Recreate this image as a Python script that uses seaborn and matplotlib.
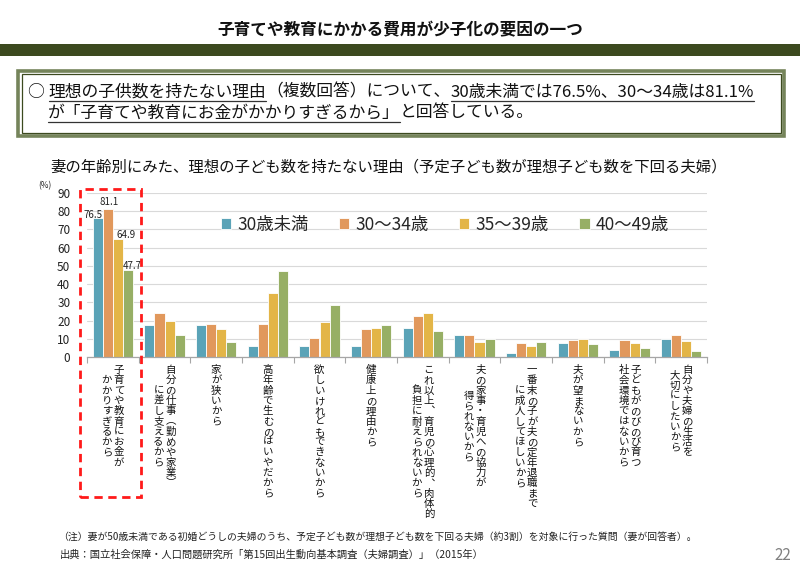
import numpy as np
import pandas as pd
import matplotlib
matplotlib.use("Agg")
import matplotlib.pyplot as plt
import seaborn as sns
from matplotlib import transforms
from matplotlib.patches import Rectangle
from matplotlib.lines import Line2D

# ---------------- data ----------------
categories = [
    "子育てや教育にお金が\nかかりすぎるから",
    "自分の仕事（勤めや家業）\nに差し支えるから",
    "家が狭いから",
    "高年齢で生むのはいやだから",
    "欲しいけれどもできないから",
    "健康上の理由から",
    "これ以上、育児の心理的、肉体的\n負担に耐えられないから",
    "夫の家事・育児への協力が\n得られないから",
    "一番末の子が夫の定年退職まで\nに成人してほしいから",
    "夫が望まないから",
    "子どもがのびのび育つ\n社会環境ではないから",
    "自分や夫婦の生活を\n大切にしたいから",
]
ages = ["30歳未満", "30～34歳", "35～39歳", "40～49歳"]
under30 = [76.5, 17.6, 17.6, 5.9, 5.9, 5.9, 15.7, 11.8, 2.0, 7.8, 3.9, 9.8]
age30_34 = [81.1, 24.2, 18.2, 18.2, 10.6, 15.2, 22.7, 12.1, 7.6, 9.1, 9.1, 12.1]
age35_39 = [64.9, 20.0, 15.2, 35.2, 19.2, 16.0, 24.4, 8.4, 6.0, 10.0, 7.6, 8.8]
age40_49 = [47.7, 11.8, 8.2, 47.1, 28.4, 17.3, 14.4, 10.0, 8.0, 7.2, 5.0, 3.5]
yticks = list(range(0, 91, 10))

title = "子育てや教育にかかる費用が少子化の要因の一つ"
subtitle = "妻の年齢別にみた、理想の子ども数を持たない理由（予定子ども数が理想子ども数を下回る夫婦）"
box_line1 = [("○ ", False), ("理想の子供数を持たない理由", True), ("（複数回答）について、", False),
             ("30歳未満では76.5%、30～34歳は81.1%", True)]
box_line2 = [("が「子育てや教育にお金がかかりすぎるから」", True), ("と回答している。", False)]
note1 = "（注）妻が50歳未満である初婚どうしの夫婦のうち、予定子ども数が理想子ども数を下回る夫婦（約3割）を対象に行った質問（妻が回答者）。"
note2 = "出典：国立社会保障・人口問題研究所「第15回出生動向基本調査（夫婦調査）」（2015年）"
page_no = "22"

colors = ["#4bacc6", "#f79646", "#fdbf2d", "#9bbb59"]

rows = []
for age, vals in zip(ages, [under30, age30_34, age35_39, age40_49]):
    for c, v in zip(categories, vals):
        rows.append({"cat": c, "age": age, "value": v})
df = pd.DataFrame(rows)

# ---------------- style ----------------
sns.set_theme(style="white")
plt.rcParams["font.family"] = ["Noto Sans CJK JP", "DejaVu Sans"]

W, H = 800, 574
fig = plt.figure(figsize=(W / 100, H / 100), dpi=100)


def fx(px):
    return px / W


def fy(py):
    return 1 - py / H


# title and band
fig.text(0.5, fy(30), title, ha="center", va="center", fontsize=12, fontweight="bold", color="#111111")
fig.patches.append(Rectangle((0, fy(56)), 1, 12 / H, transform=fig.transFigure,
                             facecolor="#3c4a1f", edgecolor="none"))

# text box
fig.patches.append(Rectangle((fx(18), fy(136)), fx(784 - 18), (136 - 71) / H, transform=fig.transFigure,
                             facecolor="white", edgecolor="#75845a", lw=2.6))
fig.patches.append(Rectangle((fx(21.5), fy(132.5)), fx(780.5 - 21.5), (132.5 - 74.5) / H,
                             transform=fig.transFigure, facecolor="none", edgecolor="#3c4a1f", lw=0.9))

renderer = fig.canvas.get_renderer()


def draw_runs(runs, x0, ypx, fs):
    x = x0
    for txt, ul in runs:
        t = fig.text(fx(x), fy(ypx), txt, ha="left", va="center", fontsize=fs, color="#111111")
        bb = t.get_window_extent(renderer)
        if ul:
            yb = bb.y0 - 0.5
            fig.lines.append(Line2D([bb.x0 / W, bb.x1 / W], [yb / H, yb / H], transform=fig.transFigure,
                                    color="#333333", lw=0.9))
        x = bb.x1 * (W / fig.bbox.width)


draw_runs(box_line1, 28, 92, 12.1)
draw_runs(box_line2, 48, 113, 12.1)

# subtitle
fig.text(fx(50), fy(167), subtitle, ha="left", va="center", fontsize=11.1, color="#111111")

# ---------------- chart ----------------
ax = fig.add_axes([fx(87), fy(357), fx(707 - 87), (357 - 193) / H])
sns.barplot(data=df, x="cat", y="value", hue="age", order=categories, hue_order=ages,
            palette=colors, width=0.78, edgecolor="white", linewidth=0.6, errorbar=None, ax=ax)

ax.set_xlim(-0.5, len(categories) - 0.5)
ax.set_ylim(0, 90)
ax.set_yticks(yticks)
ax.set_yticklabels([str(v) for v in yticks], fontsize=8.5, color="#222222")
ax.tick_params(axis="y", length=0, pad=12)
ax.set_xticks(np.arange(-0.5, len(categories), 1.0))
ax.set_xticklabels([])
ax.tick_params(axis="x", length=4, width=0.8, color="#a6a6a6", direction="out", bottom=True)
ax.grid(axis="y", color="#d9d9d9", lw=0.8)
ax.grid(axis="x", visible=False)
ax.set_axisbelow(True)
ax.set_xlabel("")
ax.set_ylabel("")
for s in ["left", "top", "right"]:
    ax.spines[s].set_visible(False)
ax.spines["bottom"].set_color("#a6a6a6")
ax.spines["bottom"].set_linewidth(0.9)

fig.text(fx(38), fy(186), "(%)", ha="left", va="center", fontsize=6, color="#222222")

# legend
handles, labels = ax.get_legend_handles_labels()
ax.legend(handles, labels, ncol=4, loc="center", bbox_to_anchor=(0.577, 0.805), frameon=False,
          fontsize=12.5, handlelength=0.6, handleheight=0.6, handletextpad=0.35, columnspacing=1.75)

# data labels for first group
label_off = [(-5, 3), (1, 7), (8, 4), (4, 4)]
for cont, (dx, dy) in zip(ax.containers, label_off):
    p = cont.patches[0]
    ax.annotate(f"{p.get_height():.1f}", (p.get_x() + p.get_width() / 2, p.get_height()),
                xytext=(dx, dy), textcoords="offset pixels", ha="center", va="center",
                fontsize=7, color="#222222")

# vertical (tategaki) category labels
vmap = {"（": "︵", "）": "︶", "、": "︑"}
step = 10.3
colgap = 12
for i, cat in enumerate(categories):
    cols = cat.split("\n")
    n = len(cols)
    maxlen = max(len(c) for c in cols)
    for j, col in enumerate(cols):
        dx = ((n - 1) / 2 - j) * colgap
        start = (maxlen - len(col)) / 2
        for k, ch in enumerate(col):
            dy = -13 - (start + k) * step
            tr = transforms.offset_copy(ax.get_xaxis_transform(), fig=fig, x=dx, y=dy, units="dots")
            ax.text(i, 0, vmap.get(ch, ch), transform=tr, ha="center", va="center",
                    fontsize=7.5, color="#111111", clip_on=False)

# red dashed highlight
fig.patches.append(Rectangle((fx(80), fy(497)), fx(61), (497 - 189) / H, transform=fig.transFigure,
                             facecolor="none", edgecolor="#ff1a1a", lw=2, linestyle=(0, (3, 2))))

# notes
fig.text(fx(58), fy(537), note1, ha="left", va="center", fontsize=7.1, color="#222222")
fig.text(fx(60), fy(555), note2, ha="left", va="center", fontsize=7.4, color="#222222")
fig.text(fx(791), fy(556), page_no, ha="right", va="center", fontsize=11, color="#808080")

fig.savefig("out.png", dpi=100)
